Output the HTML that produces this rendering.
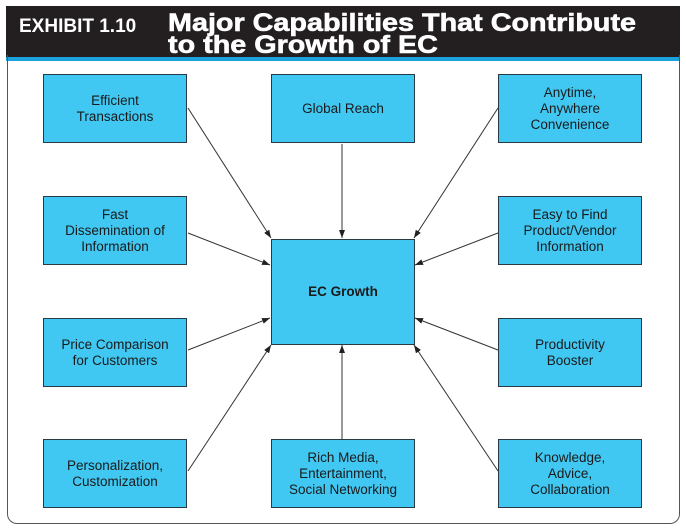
<!DOCTYPE html>
<html><head><style>
body{margin:0;width:686px;height:532px;background:#fff;position:relative;font-family:"Liberation Sans",sans-serif;overflow:hidden}
.hdr{position:absolute;left:6px;top:6px;width:674px;height:51px;background:#231f20}
.bl{position:absolute;left:6px;top:57px;width:674px;height:4px;background:#1ba1dc}
.ex{position:absolute;left:19px;top:16px;color:#fff;font-family:"Liberation Sans Narrow","Liberation Sans",sans-serif;font-weight:bold;font-size:19px;transform:scaleX(1.0);transform-origin:left}
.tt{position:absolute;left:168px;top:12px;color:#fff;font-weight:bold;font-size:25px;line-height:22px;transform:scaleX(1.15);transform-origin:left;-webkit-text-stroke:0.6px #fff}
.frame{position:absolute;left:7px;top:55px;width:671px;height:468px;border:1px solid #555;border-top:none;border-radius:0 0 10px 10px}
.b{position:absolute;width:142px;height:67px;background:#40c8f2;border:1px solid #2a3a44;display:flex;align-items:center;justify-content:center;text-align:center;font-size:13.5px;line-height:16px;color:#1a1a1a}
</style></head><body>
<div class="hdr"></div><div class="bl"></div>
<div class="ex">EXHIBIT 1.10</div>
<div class="tt">Major Capabilities That Contribute<br>to the Growth of EC</div>
<div class="frame"></div>
<svg style="position:absolute;left:0;top:0" width="686" height="532">
<defs><marker id="a" markerWidth="8" markerHeight="6" refX="8" refY="3" orient="auto" markerUnits="userSpaceOnUse"><path d="M0,0L8,3L0,6z" fill="#222"/></marker></defs>
<g stroke="#333" stroke-width="1" marker-end="url(#a)">
<line x1="188" y1="108" x2="271" y2="238"/>
<line x1="342" y1="144" x2="342" y2="238"/>
<line x1="498" y1="108" x2="414" y2="238"/>
<line x1="188" y1="233" x2="270" y2="265"/>
<line x1="498" y1="233" x2="415" y2="265"/>
<line x1="188" y1="350" x2="270" y2="318"/>
<line x1="498" y1="350" x2="415" y2="318"/>
<line x1="188" y1="471" x2="271" y2="345"/>
<line x1="342" y1="439" x2="342" y2="345"/>
<line x1="498" y1="471" x2="414" y2="345"/>
</g></svg>
<div class="b" style="left:43px;top:74px">Efficient<br>Transactions</div>
<div class="b" style="left:271px;top:74px">Global Reach</div>
<div class="b" style="left:498px;top:74px">Anytime,<br>Anywhere<br>Convenience</div>
<div class="b" style="left:43px;top:196px">Fast<br>Dissemination of<br>Information</div>
<div class="b" style="left:498px;top:196px">Easy to Find<br>Product/Vendor<br>Information</div>
<div class="b" style="left:271px;top:239px;height:104px;font-weight:bold">EC Growth</div>
<div class="b" style="left:43px;top:318px">Price Comparison<br>for Customers</div>
<div class="b" style="left:498px;top:318px">Productivity<br>Booster</div>
<div class="b" style="left:43px;top:439px">Personalization,<br>Customization</div>
<div class="b" style="left:271px;top:439px">Rich Media,<br>Entertainment,<br>Social Networking</div>
<div class="b" style="left:498px;top:439px">Knowledge,<br>Advice,<br>Collaboration</div>
</body></html>
